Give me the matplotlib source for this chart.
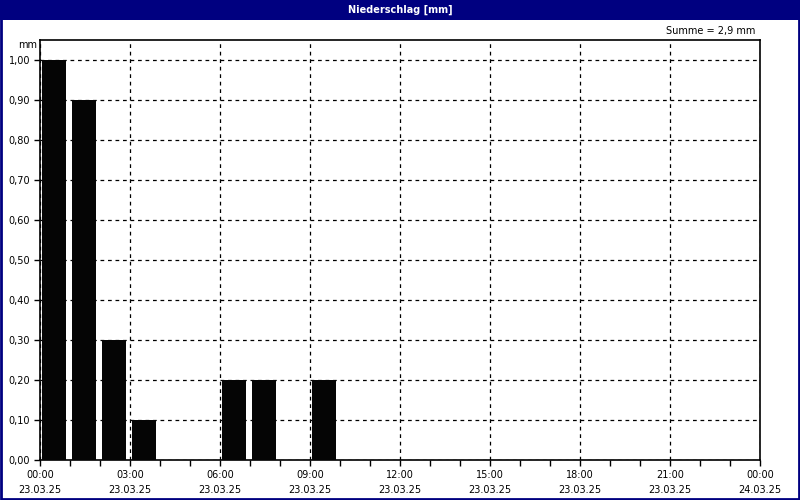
import matplotlib
matplotlib.use("Agg")
import matplotlib.pyplot as plt
from matplotlib.patches import Rectangle

# hourly precipitation (hour of day, mm)
hours = [0, 1, 2, 3, 4, 5, 6, 7, 8, 9]
rain = [1.0, 0.9, 0.3, 0.1, 0.0, 0.0, 0.2, 0.2, 0.0, 0.2]

x_ticks = [0, 3, 6, 9, 12, 15, 18, 21, 24]
x_labels = ["00:00\n23.03.25", "03:00\n23.03.25", "06:00\n23.03.25",
            "09:00\n23.03.25", "12:00\n23.03.25", "15:00\n23.03.25",
            "18:00\n23.03.25", "21:00\n23.03.25", "00:00\n24.03.25"]
y_ticks = [0.0, 0.1, 0.2, 0.3, 0.4, 0.5, 0.6, 0.7, 0.8, 0.9, 1.0]

title = "Niederschlag [mm]"
navy = "#000080"

plt.rcParams['font.family'] = ['DejaVu Sans']
fig = plt.figure(figsize=(8, 5), dpi=100)
fig.patch.set_facecolor("white")

# title bar + border
fig.patches.append(Rectangle((0, 0.96), 1, 0.04, transform=fig.transFigure,
                             facecolor=navy, edgecolor="none", zorder=0))
fig.patches.append(Rectangle((0.001, 0.002), 0.998, 0.996, transform=fig.transFigure,
                             facecolor="none", edgecolor=navy, linewidth=2, zorder=5))
fig.text(0.5, 0.98, title, color="white", fontsize=7, fontweight="bold",
         ha="center", va="center")

ax = fig.add_axes([0.05, 0.08, 0.90, 0.84])
ax.bar([h + 2 / 30 for h in hours], rain, width=0.8, align="edge",
       color="#050505", edgecolor="none", zorder=3)

ax.set_xlim(0, 24)
ax.set_ylim(0, 1.05)
ax.set_xticks(x_ticks)
ax.set_xticklabels(x_labels, fontsize=7, linespacing=1.7)
ax.set_xticks(range(0, 25), minor=True)
ax.set_yticks(y_ticks)
ax.set_yticklabels([f"{v:.2f}".replace(".", ",") for v in y_ticks], fontsize=7)
ax.tick_params(which="both", length=4, width=1, color="black", pad=3)
ax.grid(True, which="major", color="black", linestyle=(0, (3, 3)), linewidth=0.9, zorder=1)
for s in ax.spines.values():
    s.set_linewidth(1.2)

ax.text(-0.004, 0.988, "mm", transform=ax.transAxes, fontsize=7, ha="right", va="center")
ax.text(0.994, 1.021, "Summe = 2,9 mm", transform=ax.transAxes, fontsize=7,
        ha="right", va="center")

fig.savefig("out.png", dpi=100)
